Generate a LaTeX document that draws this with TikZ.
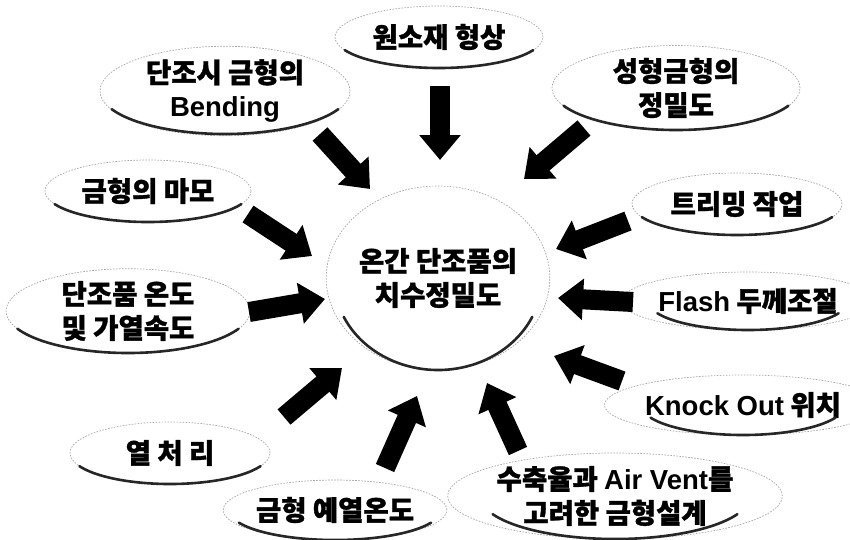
\documentclass[tikz,border=0pt]{standalone}
\usepackage{fontspec}
\setmainfont{Noto Sans CJK KR}[BoldFeatures={FakeBold=1.2}]
\newfontfamily\latfont{Liberation Sans}[Scale=1.0]
\newcommand{\lat}[1]{{\latfont #1}}
\usetikzlibrary{shapes.geometric,arrows.meta}
\newcommand{\bubble}[6]{%
  \node[bub, minimum width=#4*2pt, minimum height=#5*2pt] (#1) at (#2,#3) {#6};
  \draw[sharc] ([shift={(205:#4pt and #5pt)}]#1.center) arc[start angle=205, end angle=335, x radius=#4pt, y radius=#5pt];
}
\begin{document}
\begin{tikzpicture}[x=1pt,y=-1pt,
  bub/.style={ellipse, draw=gray!70, dash pattern=on 1.6pt off 1.4pt, line width=0.7pt, fill=white, inner sep=0pt, align=center, font=\bfseries\fontsize{27.5}{34}\selectfont},
  sharc/.style={line width=2.6pt, line cap=round, black!85},
  bigarrow/.style={line width=20pt, -{Triangle[length=25pt,width=40pt]}, black}]
\useasboundingbox (0,0) rectangle (850,539);

\bubble{c}{438}{278}{104}{92}{온간 단조품의\\치수정밀도}
\bubble{s1}{439}{37}{104}{31}{원소재 형상}
\bubble{s2}{225}{91}{125}{43}{단조시 금형의\\\lat{Bending}}
\bubble{s3}{676}{88}{124}{42}{성형금형의\\정밀도}
\bubble{s4}{148}{191}{103}{31}{금형의 마모}
\bubble{s5}{737}{204}{105}{31}{트리밍 작업}
\bubble{s6}{128}{311}{122}{42}{단조품 온도\\및 가열속도}
\bubble{s7}{748}{301}{100}{29}{\lat{Flash} 두께조절}
\bubble{s8}{743}{405}{102}{30}{\lat{Knock Out} 위치}
\bubble{s9}{170}{453}{100}{31}{열 처 리}
\bubble{s10}{335}{510}{106}{30}{금형 예열온도}
\bubble{s11}{615}{496}{135}{43}{수축율과 \lat{Air Vent}를\\고려한 금형설계}

\coordinate (t1) at (440,86);  \coordinate (h1) at (440,160);
\coordinate (t2) at (320,134); \coordinate (h2) at (370,189);
\coordinate (t3) at (584,128); \coordinate (h3) at (524,179);
\coordinate (t4) at (248,214); \coordinate (h4) at (312,256);
\coordinate (t5) at (628,221); \coordinate (h5) at (556,249);
\coordinate (t6) at (249,312); \coordinate (h6) at (325,299);
\coordinate (t7) at (633,302); \coordinate (h7) at (558,298);
\coordinate (t8) at (622,381); \coordinate (h8) at (554,356);
\coordinate (t9) at (284,417); \coordinate (h9) at (342,368);
\coordinate (t10) at (385,468); \coordinate (h10) at (417,396);
\coordinate (t11) at (518,451); \coordinate (h11) at (487,383);

\foreach \i in {1,...,11} {\draw[bigarrow] (t\i) -- (h\i);}
\end{tikzpicture}
\end{document}
